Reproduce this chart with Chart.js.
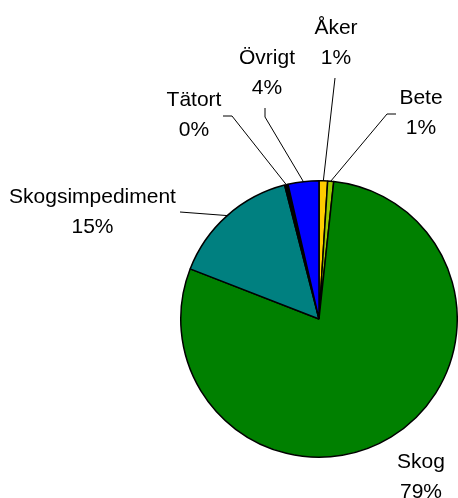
<!DOCTYPE html>
<html>
<head>
<meta charset="utf-8">
<script src="https://cdn.jsdelivr.net/npm/chart.js@4/dist/chart.umd.min.js"></script>
<style>
html,body{margin:0;padding:0;background:#fff;overflow:hidden;}
#wrap{width:458px;height:498px;}
</style>
</head>
<body>
<div id="wrap"><canvas id="c" width="458" height="498"></canvas></div>
<script>
// Data (clockwise from 12 o'clock)
const categories = ['Åker', 'Bete', 'Skog', 'Skogsimpediment', 'Tätort', 'Övrigt'];
const shares = [1.0, 0.7, 79.2, 15.1, 0.4, 3.6];
const percentLabels = ['1%', '1%', '79%', '15%', '0%', '4%'];

// Styles
const sliceColors = ['#FFCC00', '#99CC00', '#008000', '#008080', '#000000', '#0000FF'];

// Label layout: text centre x, first-line baseline y, optional elbow/start points for leader line
const labelLayout = [
  {x: 336, y: 34, line: [[335, 78]]},
  {x: 421, y: 104, line: [[396, 114], [387, 114]]},
  {x: 421, y: 468, line: null},
  {x: 92.5, y: 203, line: [[180, 212]]},
  {x: 194, y: 106, line: [[223, 116], [232, 116]]},
  {x: 267, y: 64, line: [[265, 108], [265, 117]]}
];

const labelPlugin = {
  id: 'pieLabels',
  afterDatasetsDraw(chart) {
    const ctx = chart.ctx;
    const meta = chart.getDatasetMeta(0);
    ctx.save();
    ctx.font = '21px "Liberation Sans", Arial, sans-serif';
    ctx.fillStyle = '#000';
    ctx.textAlign = 'center';
    ctx.textBaseline = 'alphabetic';
    meta.data.forEach((arc, i) => {
      const L = labelLayout[i];
      const p = arc.getProps(['x', 'y', 'startAngle', 'endAngle', 'outerRadius'], true);
      const mid = (p.startAngle + p.endAngle) / 2;
      const ex = p.x + Math.cos(mid) * p.outerRadius;
      const ey = p.y + Math.sin(mid) * p.outerRadius;
      if (L.line) {
        ctx.beginPath();
        ctx.strokeStyle = '#000';
        ctx.lineWidth = 1;
        ctx.moveTo(L.line[0][0], L.line[0][1]);
        for (let k = 1; k < L.line.length; k++) ctx.lineTo(L.line[k][0], L.line[k][1]);
        ctx.lineTo(ex, ey);
        ctx.stroke();
      }
      ctx.fillText(categories[i], L.x, L.y);
      ctx.fillText(percentLabels[i], L.x, L.y + 30);
    });
    ctx.restore();
  }
};

new Chart(document.getElementById('c'), {
  type: 'pie',
  data: {
    labels: categories,
    datasets: [{
      data: shares,
      backgroundColor: sliceColors,
      borderColor: '#000',
      borderWidth: 1.5
    }]
  },
  options: {
    responsive: false,
    animation: false,
    layout: {padding: {left: 180, top: 180, right: 0, bottom: 40}},
    plugins: {legend: {display: false}, tooltip: {enabled: false}}
  },
  plugins: [labelPlugin]
});
</script>
</body>
</html>
